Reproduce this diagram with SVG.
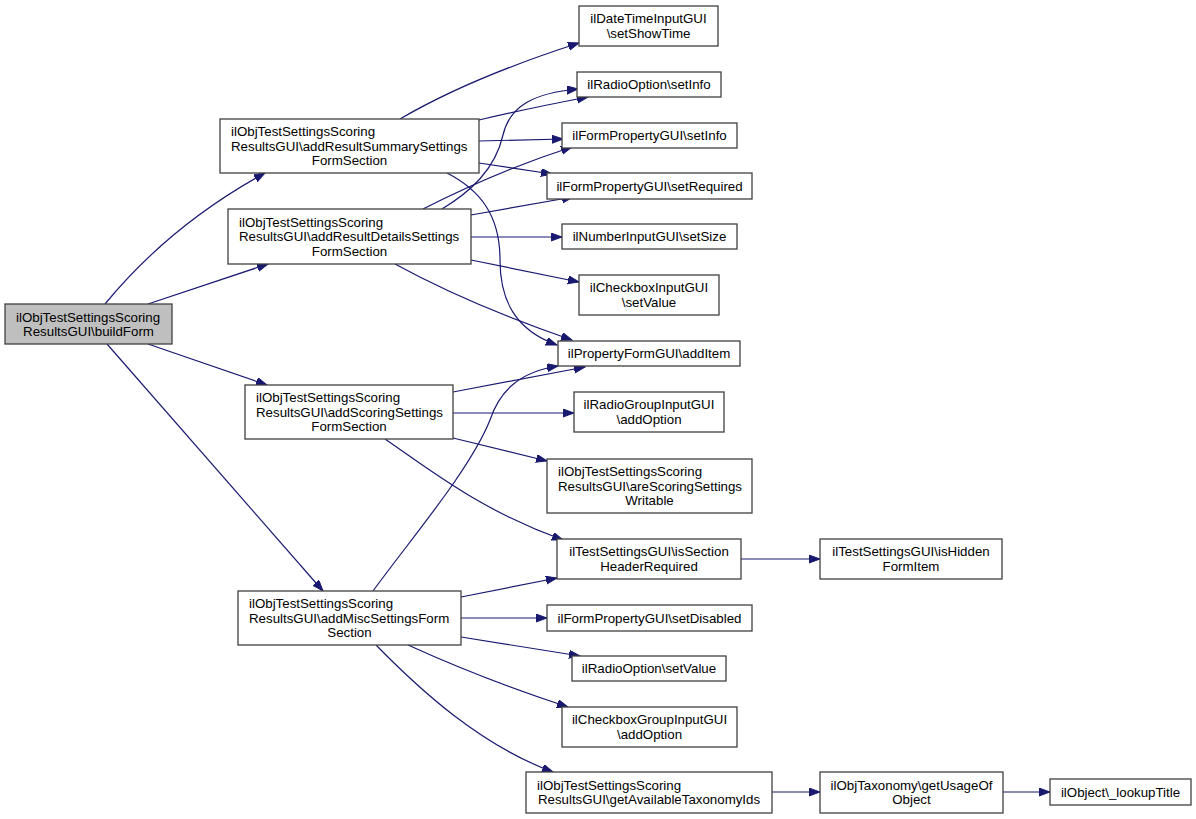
<svg xmlns="http://www.w3.org/2000/svg" width="1196" height="819" viewBox="0 0 1196 819">
<style>
.n rect{fill:#ffffff;stroke:#404040;stroke-width:1.3}
.n.root rect{fill:#bfbfbf}
.n text{font-family:"Liberation Sans",Arial,Helvetica,sans-serif;font-size:13.3px;fill:#000000}
.c{text-anchor:middle}
#edges path{fill:none;stroke:#191970;stroke-width:1.2;marker-end:url(#ah)}
</style>
<defs>
<marker id="ah" markerUnits="userSpaceOnUse" markerWidth="12" markerHeight="9" refX="11" refY="4" orient="auto">
<path d="M0,0 L11,4 L0,8 z" fill="#191970" stroke="#191970" stroke-width="1"/>
</marker>
</defs>
<rect width="1196" height="819" fill="#ffffff"/>
<g id="edges">
<path d="M105,304 Q170,225 265,173"/>
<path d="M148,304 L268,264"/>
<path d="M148,344 L267,385"/>
<path d="M107,344 L323,591"/>
<path d="M400,119 Q470,78 579,43"/>
<path d="M479,120 Q530,108 588,97"/>
<path d="M442,209 C470,192 495,170 503,135 C510,105 535,93 578,89"/>
<path d="M479,141 L563,139"/>
<path d="M423,209 Q500,170 572,147"/>
<path d="M479,163 L552,174"/>
<path d="M471,215 L573,197"/>
<path d="M471,237 L562,237"/>
<path d="M471,260 L579,282"/>
<path d="M447,173 C480,190 500,215 500,260 C500,300 515,330 557,345"/>
<path d="M395,264 Q470,305 572,340"/>
<path d="M453,392 L585,367"/>
<path d="M453,413 L574,413"/>
<path d="M453,438 L547,461"/>
<path d="M385,439 C430,470 480,510 563,540"/>
<path d="M373,591 C410,540 470,470 490,420 C500,390 520,372 558,366"/>
<path d="M461,597 L557,578"/>
<path d="M461,618 L547,618"/>
<path d="M461,637 L580,656"/>
<path d="M408,645 Q485,680 568,707"/>
<path d="M376,645 C420,690 480,745 553,772"/>
<path d="M741,559 L820,559"/>
<path d="M772,792 L820,792"/>
<path d="M1003,792 L1050,792"/>
</g>
<g id="n_buildForm" class="n root">
<rect x="5" y="304" width="167" height="40"/>
<text x="16" y="321.5">ilObjTestSettingsScoring</text>
<text class="c" x="88.5" y="336">ResultsGUI\buildForm</text>
</g>
<g id="n_summary" class="n">
<rect x="220" y="119" width="259" height="54"/>
<text x="231" y="136">ilObjTestSettingsScoring</text>
<text x="231" y="150.5">ResultsGUI\addResultSummarySettings</text>
<text class="c" x="349.5" y="165">FormSection</text>
</g>
<g id="n_details" class="n">
<rect x="228" y="209" width="243" height="55"/>
<text x="239" y="226.5">ilObjTestSettingsScoring</text>
<text x="239" y="241">ResultsGUI\addResultDetailsSettings</text>
<text class="c" x="349.5" y="255.5">FormSection</text>
</g>
<g id="n_scoring" class="n">
<rect x="245" y="385" width="208" height="54"/>
<text x="256" y="402">ilObjTestSettingsScoring</text>
<text x="256" y="416.5">ResultsGUI\addScoringSettings</text>
<text class="c" x="349" y="431">FormSection</text>
</g>
<g id="n_misc" class="n">
<rect x="238" y="591" width="223" height="54"/>
<text x="249" y="608">ilObjTestSettingsScoring</text>
<text x="249" y="622.5">ResultsGUI\addMiscSettingsForm</text>
<text class="c" x="349.5" y="637">Section</text>
</g>
<g id="n_setShowTime" class="n">
<rect x="579" y="6" width="139" height="40"/>
<text class="c" x="648.5" y="23">ilDateTimeInputGUI</text>
<text class="c" x="648.5" y="37.5">\setShowTime</text>
</g>
<g id="n_radioSetInfo" class="n">
<rect x="577" y="72" width="144" height="25"/>
<text class="c" x="649" y="89">ilRadioOption\setInfo</text>
</g>
<g id="n_fpSetInfo" class="n">
<rect x="562" y="123" width="175" height="25"/>
<text class="c" x="649.5" y="140">ilFormPropertyGUI\setInfo</text>
</g>
<g id="n_setRequired" class="n">
<rect x="547" y="173" width="205" height="26"/>
<text class="c" x="649.5" y="190.5">ilFormPropertyGUI\setRequired</text>
</g>
<g id="n_setSize" class="n">
<rect x="562" y="224" width="175" height="25"/>
<text class="c" x="649.5" y="241">ilNumberInputGUI\setSize</text>
</g>
<g id="n_cbSetValue" class="n">
<rect x="579" y="275" width="140" height="40"/>
<text class="c" x="649" y="292">ilCheckboxInputGUI</text>
<text class="c" x="649" y="306.5">\setValue</text>
</g>
<g id="n_addItem" class="n">
<rect x="558" y="341" width="182" height="25"/>
<text class="c" x="649" y="358">ilPropertyFormGUI\addItem</text>
</g>
<g id="n_rgAddOption" class="n">
<rect x="574" y="392" width="150" height="40"/>
<text class="c" x="649" y="409">ilRadioGroupInputGUI</text>
<text class="c" x="649" y="423.5">\addOption</text>
</g>
<g id="n_areWritable" class="n">
<rect x="547" y="459" width="205" height="54"/>
<text x="558" y="476">ilObjTestSettingsScoring</text>
<text x="558" y="490.5">ResultsGUI\areScoringSettings</text>
<text class="c" x="649.5" y="505">Writable</text>
</g>
<g id="n_isSectionHeader" class="n">
<rect x="557" y="539" width="184" height="40"/>
<text class="c" x="649" y="556">ilTestSettingsGUI\isSection</text>
<text class="c" x="649" y="570.5">HeaderRequired</text>
</g>
<g id="n_setDisabled" class="n">
<rect x="547" y="605" width="205" height="26"/>
<text class="c" x="649.5" y="622.5">ilFormPropertyGUI\setDisabled</text>
</g>
<g id="n_rSetValue" class="n">
<rect x="572" y="656" width="154" height="25"/>
<text class="c" x="649" y="673">ilRadioOption\setValue</text>
</g>
<g id="n_cbgAddOption" class="n">
<rect x="562" y="707" width="175" height="40"/>
<text class="c" x="649.5" y="724">ilCheckboxGroupInputGUI</text>
<text class="c" x="649.5" y="738.5">\addOption</text>
</g>
<g id="n_getAvail" class="n">
<rect x="526" y="772" width="246" height="41"/>
<text x="537" y="789.5">ilObjTestSettingsScoring</text>
<text class="c" x="649" y="804">ResultsGUI\getAvailableTaxonomyIds</text>
</g>
<g id="n_isHidden" class="n">
<rect x="820" y="539" width="182" height="40"/>
<text class="c" x="911" y="556">ilTestSettingsGUI\isHidden</text>
<text class="c" x="911" y="570.5">FormItem</text>
</g>
<g id="n_getUsage" class="n">
<rect x="820" y="772" width="183" height="41"/>
<text class="c" x="911.5" y="789.5">ilObjTaxonomy\getUsageOf</text>
<text class="c" x="911.5" y="804">Object</text>
</g>
<g id="n_lookup" class="n">
<rect x="1050" y="779" width="141" height="26"/>
<text class="c" x="1120.5" y="796.5">ilObject\_lookupTitle</text>
</g>
</svg>
